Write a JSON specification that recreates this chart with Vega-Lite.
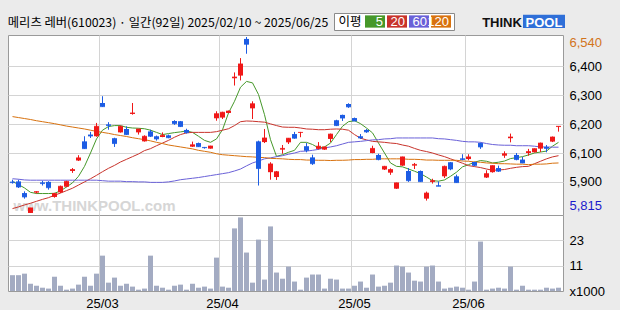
{
"$schema": "https://vega.github.io/schema/vega-lite/v6.json",
"background": "#ebebeb",
"padding": {"left": 7, "top": 12, "right": 60, "bottom": 20},
"bounds": "full",
"spacing": 3,
"datasets": {"k": [
{"d":"2025-02-10","o":5944,"h":5952,"l":5936,"c":5940,"v":7.2,"ma5":5945,"ma20":5833,"ma60":5956,"ma120":6212},
{"d":"2025-02-11","o":5945,"h":5952,"l":5918,"c":5922,"v":7.2,"ma5":5932,"ma20":5840,"ma60":5954,"ma120":6208},
{"d":"2025-02-12","o":5897,"h":5904,"l":5874,"c":5881,"v":7.9,"ma5":5918,"ma20":5848,"ma60":5951,"ma120":6204},
{"d":"2025-02-13","o":5815,"h":5836,"l":5815,"c":5836,"v":3.3,"ma5":5900,"ma20":5855,"ma60":5950,"ma120":6200},
{"d":"2025-02-14","o":5899,"h":5904,"l":5895,"c":5903,"v":2.4,"ma5":5895,"ma20":5863,"ma60":5950,"ma120":6195},
{"d":"2025-02-17","o":5941,"h":5948,"l":5928,"c":5936,"v":1.5,"ma5":5895,"ma20":5871,"ma60":5950,"ma120":6191},
{"d":"2025-02-18","o":5943,"h":5946,"l":5911,"c":5919,"v":1.1,"ma5":5895,"ma20":5878,"ma60":5950,"ma120":6187},
{"d":"2025-02-19","o":5881,"h":5898,"l":5878,"c":5895,"v":6.5,"ma5":5896,"ma20":5888,"ma60":5950,"ma120":6183},
{"d":"2025-02-20","o":5900,"h":5928,"l":5897,"c":5925,"v":2.4,"ma5":5906,"ma20":5897,"ma60":5950,"ma120":6178},
{"d":"2025-02-21","o":5923,"h":5948,"l":5921,"c":5945,"v":0.6,"ma5":5922,"ma20":5907,"ma60":5950,"ma120":6173},
{"d":"2025-02-24","o":5988,"h":6000,"l":5980,"c":5994,"v":1.1,"ma5":5939,"ma20":5917,"ma60":5950,"ma120":6169},
{"d":"2025-02-25","o":6031,"h":6053,"l":6029,"c":6042,"v":2.9,"ma5":5966,"ma20":5930,"ma60":5950,"ma120":6165},
{"d":"2025-02-26","o":6110,"h":6131,"l":6079,"c":6080,"v":6.5,"ma5":6007,"ma20":5943,"ma60":5950,"ma120":6161},
{"d":"2025-02-27","o":6138,"h":6149,"l":6124,"c":6132,"v":2.4,"ma5":6062,"ma20":5956,"ma60":5950,"ma120":6156},
{"d":"2025-02-28","o":6131,"h":6186,"l":6129,"c":6172,"v":7.9,"ma5":6120,"ma20":5970,"ma60":5950,"ma120":6151},
{"d":"2025-03-04","o":6268,"h":6296,"l":6252,"c":6253,"v":16.1,"ma5":6156,"ma20":5985,"ma60":5948,"ma120":6147},
{"d":"2025-03-05","o":6180,"h":6189,"l":6158,"c":6175,"v":3.8,"ma5":6171,"ma20":5999,"ma60":5946,"ma120":6143},
{"d":"2025-03-06","o":6123,"h":6125,"l":6087,"c":6101,"v":6.1,"ma5":6175,"ma20":6011,"ma60":5946,"ma120":6138},
{"d":"2025-03-07","o":6147,"h":6175,"l":6146,"c":6172,"v":2.4,"ma5":6175,"ma20":6025,"ma60":5946,"ma120":6134},
{"d":"2025-03-10","o":6161,"h":6172,"l":6136,"c":6138,"v":3.3,"ma5":6168,"ma20":6036,"ma60":5944,"ma120":6130},
{"d":"2025-03-11","o":6223,"h":6268,"l":6220,"c":6227,"v":2.0,"ma5":6165,"ma20":6047,"ma60":5944,"ma120":6125},
{"d":"2025-03-12","o":6147,"h":6162,"l":6138,"c":6161,"v":0.6,"ma5":6164,"ma20":6058,"ma60":5943,"ma120":6121},
{"d":"2025-03-13","o":6110,"h":6135,"l":6109,"c":6131,"v":1.1,"ma5":6162,"ma20":6072,"ma60":5943,"ma120":6117},
{"d":"2025-03-14","o":6151,"h":6158,"l":6128,"c":6131,"v":16.1,"ma5":6156,"ma20":6080,"ma60":5941,"ma120":6112},
{"d":"2025-03-17","o":6131,"h":6134,"l":6113,"c":6120,"v":2.4,"ma5":6147,"ma20":6092,"ma60":5941,"ma120":6106},
{"d":"2025-03-18","o":6128,"h":6147,"l":6127,"c":6135,"v":1.5,"ma5":6138,"ma20":6103,"ma60":5941,"ma120":6101},
{"d":"2025-03-19","o":6135,"h":6138,"l":6123,"c":6125,"v":0.6,"ma5":6142,"ma20":6114,"ma60":5943,"ma120":6095},
{"d":"2025-03-20","o":6194,"h":6197,"l":6178,"c":6183,"v":2.4,"ma5":6146,"ma20":6127,"ma60":5947,"ma120":6091},
{"d":"2025-03-21","o":6193,"h":6194,"l":6169,"c":6171,"v":2.9,"ma5":6149,"ma20":6138,"ma60":5952,"ma120":6087},
{"d":"2025-03-24","o":6157,"h":6162,"l":6142,"c":6146,"v":0.6,"ma5":6153,"ma20":6145,"ma60":5955,"ma120":6083},
{"d":"2025-03-25","o":6088,"h":6109,"l":6087,"c":6096,"v":3.3,"ma5":6147,"ma20":6147,"ma60":5958,"ma120":6079},
{"d":"2025-03-26","o":6103,"h":6105,"l":6087,"c":6088,"v":1.5,"ma5":6131,"ma20":6147,"ma60":5961,"ma120":6073},
{"d":"2025-03-27","o":6087,"h":6087,"l":6080,"c":6084,"v":2.0,"ma5":6114,"ma20":6147,"ma60":5965,"ma120":6069},
{"d":"2025-03-28","o":6080,"h":6092,"l":6080,"c":6091,"v":1.1,"ma5":6106,"ma20":6147,"ma60":5969,"ma120":6065},
{"d":"2025-03-31","o":6205,"h":6234,"l":6195,"c":6224,"v":15.2,"ma5":6120,"ma20":6150,"ma60":5973,"ma120":6059},
{"d":"2025-04-01","o":6208,"h":6232,"l":6202,"c":6230,"v":2.0,"ma5":6158,"ma20":6156,"ma60":5977,"ma120":6055},
{"d":"2025-04-02","o":6227,"h":6237,"l":6226,"c":6235,"v":1.5,"ma5":6227,"ma20":6162,"ma60":5981,"ma120":6053},
{"d":"2025-04-03","o":6370,"h":6394,"l":6340,"c":6375,"v":28.5,"ma5":6275,"ma20":6175,"ma60":5988,"ma120":6051},
{"d":"2025-04-04","o":6381,"h":6453,"l":6361,"c":6429,"v":33.5,"ma5":6333,"ma20":6191,"ma60":5996,"ma120":6049},
{"d":"2025-04-07","o":6532,"h":6540,"l":6471,"c":6510,"v":17.5,"ma5":6357,"ma20":6194,"ma60":6009,"ma120":6047},
{"d":"2025-04-08","o":6246,"h":6275,"l":6202,"c":6265,"v":3.8,"ma5":6351,"ma20":6193,"ma60":6021,"ma120":6046},
{"d":"2025-04-09","o":6110,"h":6113,"l":5928,"c":5998,"v":23.4,"ma5":6303,"ma20":6191,"ma60":6029,"ma120":6044},
{"d":"2025-04-10","o":6107,"h":6161,"l":6103,"c":6124,"v":5.2,"ma5":6220,"ma20":6189,"ma60":6038,"ma120":6043},
{"d":"2025-04-11","o":5983,"h":6024,"l":5952,"c":6017,"v":29.4,"ma5":6117,"ma20":6182,"ma60":6042,"ma120":6040},
{"d":"2025-04-14","o":5963,"h":5988,"l":5951,"c":5985,"v":8.4,"ma5":6048,"ma20":6175,"ma60":6047,"ma120":6039},
{"d":"2025-04-15","o":6076,"h":6095,"l":6059,"c":6081,"v":5.6,"ma5":6055,"ma20":6169,"ma60":6051,"ma120":6038},
{"d":"2025-04-16","o":6106,"h":6124,"l":6099,"c":6123,"v":11.1,"ma5":6065,"ma20":6168,"ma60":6057,"ma120":6036},
{"d":"2025-04-17","o":6140,"h":6149,"l":6121,"c":6123,"v":4.3,"ma5":6073,"ma20":6168,"ma60":6062,"ma120":6035},
{"d":"2025-04-18","o":6145,"h":6149,"l":6127,"c":6147,"v":0.6,"ma5":6106,"ma20":6165,"ma60":6069,"ma120":6035},
{"d":"2025-04-21","o":6090,"h":6103,"l":6065,"c":6073,"v":6.1,"ma5":6106,"ma20":6161,"ma60":6070,"ma120":6033},
{"d":"2025-04-22","o":6044,"h":6055,"l":6013,"c":6018,"v":7.5,"ma5":6097,"ma20":6160,"ma60":6073,"ma120":6033},
{"d":"2025-04-23","o":6079,"h":6107,"l":6076,"c":6090,"v":7.5,"ma5":6083,"ma20":6158,"ma60":6077,"ma120":6032},
{"d":"2025-04-24","o":6076,"h":6088,"l":6075,"c":6087,"v":1.1,"ma5":6087,"ma20":6158,"ma60":6083,"ma120":6032},
{"d":"2025-04-25","o":6120,"h":6142,"l":6107,"c":6140,"v":5.6,"ma5":6103,"ma20":6160,"ma60":6087,"ma120":6031},
{"d":"2025-04-28","o":6197,"h":6199,"l":6173,"c":6175,"v":5.2,"ma5":6138,"ma20":6161,"ma60":6092,"ma120":6032},
{"d":"2025-04-29","o":6219,"h":6220,"l":6194,"c":6206,"v":1.1,"ma5":6172,"ma20":6160,"ma60":6099,"ma120":6032},
{"d":"2025-04-30","o":6264,"h":6267,"l":6248,"c":6252,"v":1.1,"ma5":6191,"ma20":6156,"ma60":6106,"ma120":6033},
{"d":"2025-05-02","o":6206,"h":6208,"l":6193,"c":6194,"v":2.4,"ma5":6195,"ma20":6138,"ma60":6108,"ma120":6035},
{"d":"2025-05-07","o":6131,"h":6140,"l":6120,"c":6124,"v":4.3,"ma5":6183,"ma20":6123,"ma60":6110,"ma120":6035},
{"d":"2025-05-08","o":6157,"h":6161,"l":6145,"c":6149,"v":1.5,"ma5":6165,"ma20":6116,"ma60":6113,"ma120":6036},
{"d":"2025-05-09","o":6062,"h":6092,"l":6061,"c":6081,"v":7.5,"ma5":6145,"ma20":6110,"ma60":6116,"ma120":6036},
{"d":"2025-05-12","o":6054,"h":6059,"l":6032,"c":6035,"v":2.0,"ma5":6103,"ma20":6108,"ma60":6117,"ma120":6038},
{"d":"2025-05-13","o":5994,"h":6009,"l":5992,"c":6007,"v":2.4,"ma5":6062,"ma20":6106,"ma60":6120,"ma120":6038},
{"d":"2025-05-14","o":5981,"h":5999,"l":5972,"c":5994,"v":3.8,"ma5":6021,"ma20":6103,"ma60":6121,"ma120":6038},
{"d":"2025-05-15","o":5915,"h":5940,"l":5914,"c":5939,"v":11.6,"ma5":6007,"ma20":6101,"ma60":6124,"ma120":6038},
{"d":"2025-05-16","o":6010,"h":6047,"l":6009,"c":6046,"v":11.1,"ma5":6005,"ma20":6095,"ma60":6124,"ma120":6038},
{"d":"2025-05-19","o":5988,"h":6000,"l":5943,"c":5948,"v":8.4,"ma5":5996,"ma20":6090,"ma60":6124,"ma120":6036},
{"d":"2025-05-20","o":6010,"h":6021,"l":5996,"c":6015,"v":4.7,"ma5":5987,"ma20":6081,"ma60":6124,"ma120":6036},
{"d":"2025-05-21","o":5988,"h":5990,"l":5943,"c":5944,"v":4.3,"ma5":5977,"ma20":6073,"ma60":6124,"ma120":6035},
{"d":"2025-05-22","o":5874,"h":5903,"l":5866,"c":5897,"v":11.1,"ma5":5963,"ma20":6068,"ma60":6124,"ma120":6033},
{"d":"2025-05-23","o":5943,"h":5956,"l":5936,"c":5948,"v":11.6,"ma5":5948,"ma20":6062,"ma60":6124,"ma120":6033},
{"d":"2025-05-26","o":5929,"h":5945,"l":5925,"c":5925,"v":4.3,"ma5":5946,"ma20":6054,"ma60":6121,"ma120":6032},
{"d":"2025-05-27","o":5966,"h":6010,"l":5959,"c":6007,"v":1.1,"ma5":5951,"ma20":6047,"ma60":6120,"ma120":6032},
{"d":"2025-05-28","o":6024,"h":6025,"l":5991,"c":5996,"v":1.5,"ma5":5966,"ma20":6038,"ma60":6117,"ma120":6032},
{"d":"2025-05-29","o":5966,"h":5973,"l":5939,"c":5940,"v":2.0,"ma5":5983,"ma20":6029,"ma60":6114,"ma120":6032},
{"d":"2025-05-30","o":6040,"h":6057,"l":6032,"c":6035,"v":1.5,"ma5":6005,"ma20":6020,"ma60":6110,"ma120":6029},
{"d":"2025-06-02","o":6037,"h":6057,"l":6032,"c":6046,"v":0.6,"ma5":6014,"ma20":6010,"ma60":6108,"ma120":6028},
{"d":"2025-06-04","o":6025,"h":6026,"l":6007,"c":6011,"v":4.3,"ma5":6024,"ma20":6006,"ma60":6108,"ma120":6025},
{"d":"2025-06-05","o":6103,"h":6105,"l":6079,"c":6087,"v":22.5,"ma5":6031,"ma20":6002,"ma60":6106,"ma120":6024},
{"d":"2025-06-09","o":5961,"h":5991,"l":5959,"c":5977,"v":0.6,"ma5":6028,"ma20":5996,"ma60":6101,"ma120":6021},
{"d":"2025-06-10","o":5983,"h":6011,"l":5981,"c":6010,"v":1.1,"ma5":6021,"ma20":5991,"ma60":6097,"ma120":6020},
{"d":"2025-06-11","o":6000,"h":6010,"l":5984,"c":5987,"v":1.5,"ma5":6024,"ma20":5992,"ma60":6095,"ma120":6018},
{"d":"2025-06-12","o":6051,"h":6069,"l":6042,"c":6059,"v":1.1,"ma5":6029,"ma20":5994,"ma60":6094,"ma120":6018},
{"d":"2025-06-13","o":6123,"h":6142,"l":6106,"c":6128,"v":11.1,"ma5":6039,"ma20":5999,"ma60":6094,"ma120":6017},
{"d":"2025-06-16","o":6054,"h":6062,"l":6032,"c":6035,"v":0.6,"ma5":6043,"ma20":6003,"ma60":6092,"ma120":6016},
{"d":"2025-06-17","o":6035,"h":6046,"l":6020,"c":6021,"v":2.4,"ma5":6047,"ma20":6006,"ma60":6092,"ma120":6016},
{"d":"2025-06-18","o":6062,"h":6079,"l":6051,"c":6068,"v":0.6,"ma5":6054,"ma20":6007,"ma60":6092,"ma120":6014},
{"d":"2025-06-19","o":6065,"h":6081,"l":6064,"c":6080,"v":0.6,"ma5":6062,"ma20":6018,"ma60":6090,"ma120":6016},
{"d":"2025-06-20","o":6080,"h":6105,"l":6066,"c":6103,"v":0.6,"ma5":6066,"ma20":6028,"ma60":6087,"ma120":6016},
{"d":"2025-06-23","o":6087,"h":6095,"l":6065,"c":6081,"v":1.5,"ma5":6070,"ma20":6038,"ma60":6087,"ma120":6017},
{"d":"2025-06-24","o":6109,"h":6130,"l":6107,"c":6128,"v":1.1,"ma5":6090,"ma20":6046,"ma60":6086,"ma120":6020},
{"d":"2025-06-25","o":6169,"h":6172,"l":6150,"c":6172,"v":1.5,"ma5":6106,"ma20":6051,"ma60":6086,"ma120":6021}
]},
"vconcat": [
{
"hconcat": [
 {"width": 326, "height": 17, "view": {"stroke": "transparent", "fill": "transparent"},
  "data": {"values": [{"t": "메리츠 레버(610023) · 일간(92일) 2025/02/10 ~ 2025/06/25"}]},
  "mark": {"type": "text", "font": "Noto Sans CJK KR", "fontSize": 12.3, "align": "center", "baseline": "middle", "color": "#000000", "dx": -3, "dy": 1},
  "encoding": {"text": {"field": "t"}}},
 {"width": 120, "height": 17, "view": {"stroke": "#8a8a8a", "fill": "#ffffff"},
  "data": {"values": [{"k": "이평"}, {"k": "5"}, {"k": "20"}, {"k": "60"}, {"k": "120"}]},
  "encoding": {"x": {"field": "k", "type": "nominal", "sort": null, "axis": null,
    "scale": {"type": "band", "domain": ["이평","5","20","60","120"], "paddingInner": 0.0909, "paddingOuter": 0.2727, "align": 0.75}}},
  "layer": [
   {"transform": [{"filter": "datum.k != '이평'"}],
    "mark": {"type": "bar"},
    "encoding": {"y": {"datum": 0.14, "type": "quantitative", "scale": {"domain": [0, 1], "nice": false}, "axis": null}, "y2": {"datum": 0.86},
     "color": {"field": "k", "type": "nominal", "legend": null, "scale": {"domain": ["5","20","60","120"], "range": ["#46982a","#c8332b","#6a61d8","#d8720f"]}}}},
   {"transform": [{"filter": "datum.k != '이평'"}],
    "mark": {"type": "text", "font": "Liberation Sans", "fontSize": 13, "color": "#ffffff", "align": "right", "baseline": "middle", "dx": 8},
    "encoding": {"text": {"field": "k"}}},
   {"transform": [{"filter": "datum.k == '이평'"}],
    "mark": {"type": "text", "font": "Noto Sans CJK KR", "fontSize": 12.5, "color": "#000000", "align": "center", "baseline": "middle", "dx": -3},
    "encoding": {"text": {"field": "k"}}}
  ]},
 {"width": 111, "height": 17, "view": {"stroke": "transparent", "fill": "transparent"},
  "data": {"values": [{"p": "THINK"}, {"p": "POOL"}]},
  "encoding": {"x": {"field": "p", "type": "nominal", "sort": null, "axis": null,
    "scale": {"type": "band", "domain": ["THINK","POOL"], "paddingInner": 0, "paddingOuter": 0.3214, "align": 1}}},
  "layer": [
   {"transform": [{"filter": "datum.p == 'POOL'"}],
    "mark": {"type": "bar", "color": "#2f6fd8"},
    "encoding": {"y": {"datum": 0.12, "type": "quantitative", "scale": {"domain": [0, 1], "nice": false}, "axis": null}, "y2": {"datum": 0.9}}},
   {"mark": {"type": "text", "font": "Liberation Sans", "fontSize": 13, "fontWeight": "bold", "align": "center", "baseline": "middle", "dy": 1},
    "encoding": {"text": {"field": "p"}, "color": {"condition": {"test": "datum.p == 'POOL'", "value": "#ffffff"}, "value": "#111111"}}}
  ]}
],
"spacing": 0, "bounds": "flush"
},
{
"data": {"name": "k"},
"spacing": 0, "bounds": "flush",
"vconcat": [
{
"width": 555, "height": 180,
"encoding": {
 "x": {"field": "d", "type": "ordinal", "sort": "ascending", "scale": {"type": "band", "paddingInner": 0, "paddingOuter": 0.25},
  "axis": {"values": ["2025-03-04","2025-04-01","2025-05-02","2025-06-02"], "bandPosition": 0, "labels": false, "ticks": false, "domain": false, "grid": true, "gridColor": "#d4d4d4", "title": null}}
},
"layer": [
 {"data": {"values": [{"d": "2025-02-28", "t": "www.THINKPOOL.com"}]},
  "mark": {"type": "text", "fontSize": 15, "fontWeight": "bold", "color": "#d6d6d6", "baseline": "bottom", "align": "center", "dx": -2},
  "encoding": {"y": {"datum": 5809, "type": "quantitative", "scale": {"domain": [5806.6, 6548.2], "nice": false, "zero": false},
    "axis": {"orient": "right", "values": [5815, 5943, 6061, 6180, 6300, 6419, 6540], "title": null, "ticks": false, "domain": false, "grid": true, "gridColor": "#d4d4d4",
      "gridOpacity": {"condition": {"test": "datum.value == 6540 || datum.value == 5815", "value": 0}, "value": 1},
      "labelAlign": "left", "labelPadding": 6, "labelFontSize": 13, "labelFlush": 4, "labelOverlap": false,
      "labelColor": {"condition": [{"test": "datum.value == 6540", "value": "#d2741c"}, {"test": "datum.value == 5815", "value": "#1b1bcc"}], "value": "#000000"},
      "labelExpr": "datum.value == 6419 ? '6,400' : datum.value == 6180 ? '6,200' : datum.value == 6061 ? '6,100' : datum.value == 5943 ? '5,900' : format(datum.value, ',')"}},
   "text": {"field": "t"}}},
 {"transform": [{"fold": ["ma5","ma20","ma60","ma120"], "as": ["ma","val"]}],
  "mark": {"type": "line", "strokeWidth": 1},
  "encoding": {
   "y": {"field": "val", "type": "quantitative",
    "axis": {"orient": "right", "values": [5815, 5943, 6061, 6180, 6300, 6419, 6540], "title": null, "ticks": false, "domain": false, "grid": true, "gridColor": "#d4d4d4",
      "gridOpacity": {"condition": {"test": "datum.value == 6540 || datum.value == 5815", "value": 0}, "value": 1},
      "labelAlign": "left", "labelPadding": 6, "labelFontSize": 13, "labelFlush": 4, "labelOverlap": false,
      "labelColor": {"condition": [{"test": "datum.value == 6540", "value": "#d2741c"}, {"test": "datum.value == 5815", "value": "#1b1bcc"}], "value": "#000000"},
      "labelExpr": "datum.value == 6419 ? '6,400' : datum.value == 6180 ? '6,200' : datum.value == 6061 ? '6,100' : datum.value == 5943 ? '5,900' : format(datum.value, ',')"}},
   "color": {"field": "ma", "type": "nominal", "legend": null, "scale": {"domain": ["ma5","ma20","ma60","ma120"], "range": ["#43982a","#c0302b","#6a5fd8","#d8720f"]}}
  }},
 {"mark": {"type": "rule", "strokeWidth": 1},
  "encoding": {
   "y": {"field": "l", "type": "quantitative",
    "axis": {"orient": "right", "values": [5815, 5943, 6061, 6180, 6300, 6419, 6540], "title": null, "ticks": false, "domain": false, "grid": true, "gridColor": "#d4d4d4",
      "gridOpacity": {"condition": {"test": "datum.value == 6540 || datum.value == 5815", "value": 0}, "value": 1},
      "labelAlign": "left", "labelPadding": 6, "labelFontSize": 13, "labelFlush": 4, "labelOverlap": false,
      "labelColor": {"condition": [{"test": "datum.value == 6540", "value": "#d2741c"}, {"test": "datum.value == 5815", "value": "#1b1bcc"}], "value": "#000000"},
      "labelExpr": "datum.value == 6419 ? '6,400' : datum.value == 6180 ? '6,200' : datum.value == 6061 ? '6,100' : datum.value == 5943 ? '5,900' : format(datum.value, ',')"}},
   "y2": {"field": "h"},
   "color": {"condition": {"test": "datum.c >= datum.o", "value": "#f01818"}, "value": "#1c5ce4"}
  }},
 {"mark": {"type": "bar", "size": 5},
  "encoding": {
   "y": {"field": "o", "type": "quantitative",
    "axis": {"orient": "right", "values": [5815, 5943, 6061, 6180, 6300, 6419, 6540], "title": null, "ticks": false, "domain": false, "grid": true, "gridColor": "#d4d4d4",
      "gridOpacity": {"condition": {"test": "datum.value == 6540 || datum.value == 5815", "value": 0}, "value": 1},
      "labelAlign": "left", "labelPadding": 6, "labelFontSize": 13, "labelFlush": 4, "labelOverlap": false,
      "labelColor": {"condition": [{"test": "datum.value == 6540", "value": "#d2741c"}, {"test": "datum.value == 5815", "value": "#1b1bcc"}], "value": "#000000"},
      "labelExpr": "datum.value == 6419 ? '6,400' : datum.value == 6180 ? '6,200' : datum.value == 6061 ? '6,100' : datum.value == 5943 ? '5,900' : format(datum.value, ',')"}},
   "y2": {"field": "c"},
   "color": {"condition": {"test": "datum.c >= datum.o", "value": "#f01818"}, "value": "#1c5ce4"}
  }},
 {"mark": {"type": "tick", "size": 5, "thickness": 1},
  "encoding": {
   "y": {"field": "c", "type": "quantitative",
    "axis": {"orient": "right", "values": [5815, 5943, 6061, 6180, 6300, 6419, 6540], "title": null, "ticks": false, "domain": false, "grid": true, "gridColor": "#d4d4d4",
      "gridOpacity": {"condition": {"test": "datum.value == 6540 || datum.value == 5815", "value": 0}, "value": 1},
      "labelAlign": "left", "labelPadding": 6, "labelFontSize": 13, "labelFlush": 4, "labelOverlap": false,
      "labelColor": {"condition": [{"test": "datum.value == 6540", "value": "#d2741c"}, {"test": "datum.value == 5815", "value": "#1b1bcc"}], "value": "#000000"},
      "labelExpr": "datum.value == 6419 ? '6,400' : datum.value == 6180 ? '6,200' : datum.value == 6061 ? '6,100' : datum.value == 5943 ? '5,900' : format(datum.value, ',')"}},
   "color": {"condition": {"test": "datum.c >= datum.o", "value": "#f01818"}, "value": "#1c5ce4"}
  }}
]
},
{
"width": 555, "height": 76,
"mark": {"type": "bar", "size": 5, "color": "#a3abc2"},
"encoding": {
 "x": {"field": "d", "type": "ordinal", "sort": "ascending", "scale": {"type": "band", "paddingInner": 0, "paddingOuter": 0.25},
  "axis": {"values": ["2025-03-04","2025-04-01","2025-05-02","2025-06-02"], "bandPosition": 0, "labelAngle": 0, "labelFontSize": 13, "labelPadding": 6, "ticks": false, "domain": false, "grid": true, "gridColor": "#d4d4d4", "title": null,
   "labelExpr": "substring(datum.value, 2, 4) + '/' + substring(datum.value, 5, 7)"}},
 "y": {"field": "v", "type": "quantitative", "scale": {"domain": [0, 34.6], "nice": false},
  "axis": {"orient": "right", "values": [0, 11.5, 23], "title": null, "ticks": false, "domain": false, "grid": true, "gridColor": "#d4d4d4",
   "gridOpacity": {"condition": {"test": "datum.value == 0", "value": 0}, "value": 1},
   "labelAlign": "left", "labelPadding": 6, "labelFontSize": 13, "labelOverlap": false,
   "labelExpr": "datum.value == 0 ? 'x1000' : datum.value == 11.5 ? '11' : '23'"}}
}
}
]
}
],
"config": {
 "font": "Liberation Sans",
 "view": {"fill": "#ffffff", "stroke": "#9a9a9a", "strokeWidth": 1},
 "axis": {"labelFont": "Liberation Sans", "labelColor": "#000000", "labelOverlap": false}
}
}
